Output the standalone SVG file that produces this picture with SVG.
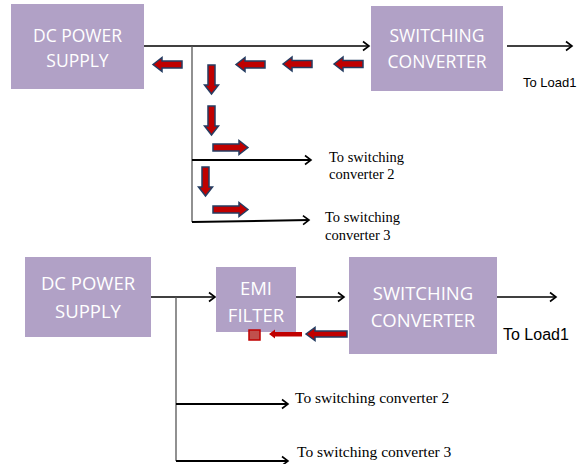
<svg xmlns="http://www.w3.org/2000/svg" width="579" height="464" viewBox="0 0 579 464">
<defs>
<marker id="chev" markerWidth="12" markerHeight="12" refX="9" refY="6" orient="auto" markerUnits="userSpaceOnUse">
<path d="M3,1.5 L9,6 L3,10.5" fill="none" stroke="#000" stroke-width="1.6"/>
</marker>
<path id="la" d="M0,0 L9,-7 L9,-3.5 L29,-3.5 L29,3.5 L9,3.5 L9,7 Z"/>
<path id="ra" d="M0,0 L-9,-7 L-9,-3.5 L-35,-3.5 L-35,3.5 L-9,3.5 L-9,7 Z"/>
</defs>
<style>
.box{fill:#b1a1c6;}
.bt{font-family:"Open Sans","Liberation Sans",sans-serif;fill:#fff;text-anchor:middle;}
.ln{stroke:#000;stroke-width:1.3;fill:none;}
.lnt{stroke:#000;stroke-width:2;fill:none;}
.vl{stroke:#555;stroke-width:1.3;fill:none;}
.ra{fill:#c00000;stroke:#243d62;stroke-width:1.5;stroke-linejoin:miter;}
.lbl{font-family:"Liberation Sans",sans-serif;fill:#000;}
.ser{font-family:"Liberation Serif",serif;fill:#000;}
</style>
<rect width="579" height="464" fill="#fff"/>

<g id="top-dc">
<rect class="box" x="11" y="4" width="133" height="85"/>
<text class="bt" x="77.5" y="42" font-size="17.5">DC POWER</text>
<text class="bt" x="77.5" y="67" font-size="17.5">SUPPLY</text>
</g>
<g id="top-sc">
<rect class="box" x="371" y="6" width="132" height="85"/>
<text class="bt" x="437" y="42" font-size="17.5">SWITCHING</text>
<text class="bt" x="437" y="68" font-size="17.5">CONVERTER</text>
</g>

<g id="connectors">
<line class="ln" x1="144" y1="46" x2="369" y2="46" marker-end="url(#chev)"/>
<line class="ln" x1="507" y1="46" x2="572" y2="46" marker-end="url(#chev)"/>
<line class="vl" x1="192" y1="46" x2="192" y2="222"/>
<line class="lnt" x1="192" y1="160" x2="311" y2="160" marker-end="url(#chev)"/>
<line class="lnt" x1="192" y1="222" x2="309" y2="220" marker-end="url(#chev)"/>

<line class="ln" x1="151" y1="297" x2="215" y2="297" marker-end="url(#chev)"/>
<line class="vl" x1="176" y1="297" x2="176" y2="461"/>
<line class="lnt" x1="176" y1="404" x2="288" y2="404" marker-end="url(#chev)"/>
<line class="lnt" x1="176" y1="461" x2="288" y2="461" marker-end="url(#chev)"/>
<line class="ln" x1="296" y1="297" x2="344" y2="297" marker-end="url(#chev)"/>
<line class="ln" x1="497" y1="297" x2="556" y2="297" marker-end="url(#chev)"/>
</g>

<g id="flow-arrows">
<use href="#la" class="ra" transform="translate(153,64.5)"/>
<use href="#la" class="ra" transform="translate(236,64.5)"/>
<use href="#la" class="ra" transform="translate(283,64)"/>
<use href="#la" class="ra" transform="translate(334,64)"/>
<use href="#la" class="ra" transform="translate(211.5,94) rotate(-90)"/>
<use href="#la" class="ra" transform="translate(211.5,135) rotate(-90)"/>
<use href="#la" class="ra" transform="translate(205.5,196) rotate(-90)"/>
<use href="#ra" class="ra" transform="translate(248,147.5)"/>
<use href="#ra" class="ra" transform="translate(248,209.5)"/>
</g>

<g id="top-labels">
<text class="lbl" x="523" y="87" font-size="13">To Load1</text>
<text class="ser" x="329" y="162" font-size="14.5">To switching</text>
<text class="ser" x="329" y="179" font-size="14.5">converter 2</text>
<text class="ser" x="325" y="222" font-size="14.5">To switching</text>
<text class="ser" x="325" y="240" font-size="14.5">converter 3</text>
</g>

<g id="bot-dc">
<rect class="box" x="25" y="257" width="126" height="80"/>
<text class="bt" x="88" y="290" font-size="18.5">DC POWER</text>
<text class="bt" x="88" y="318" font-size="18.5">SUPPLY</text>
</g>
<g id="bot-emi">
<rect class="box" x="216" y="267" width="80" height="65"/>
<text class="bt" x="256" y="295" font-size="18.5">EMI</text>
<text class="bt" x="256" y="322" font-size="18.5">FILTER</text>
</g>
<g id="bot-sc">
<rect class="box" x="349" y="257" width="148" height="97"/>
<text class="bt" x="423" y="300" font-size="18.5">SWITCHING</text>
<text class="bt" x="423" y="327" font-size="18.5">CONVERTER</text>
</g>

<g id="bot-flow">
<path d="M306,334 L315,327.5 L315,331 L347,331 L347,337 L315,337 L315,340.5 Z" class="ra"/>
<path d="M269,334 L275,329.5 L275,332 L302,332 L302,336.5 L275,336.5 L275,338.5 Z" fill="#c00000"/>
<rect x="249" y="330" width="11" height="10" fill="#c0504d" stroke="#c00000" stroke-width="1.5"/>
</g>

<g id="bot-labels">
<text class="lbl" x="503" y="340" font-size="16">To Load1</text>
<text class="ser" x="295" y="403" font-size="15.5">To switching converter 2</text>
<text class="ser" x="297" y="457" font-size="15.5">To switching converter 3</text>
</g>
</svg>
